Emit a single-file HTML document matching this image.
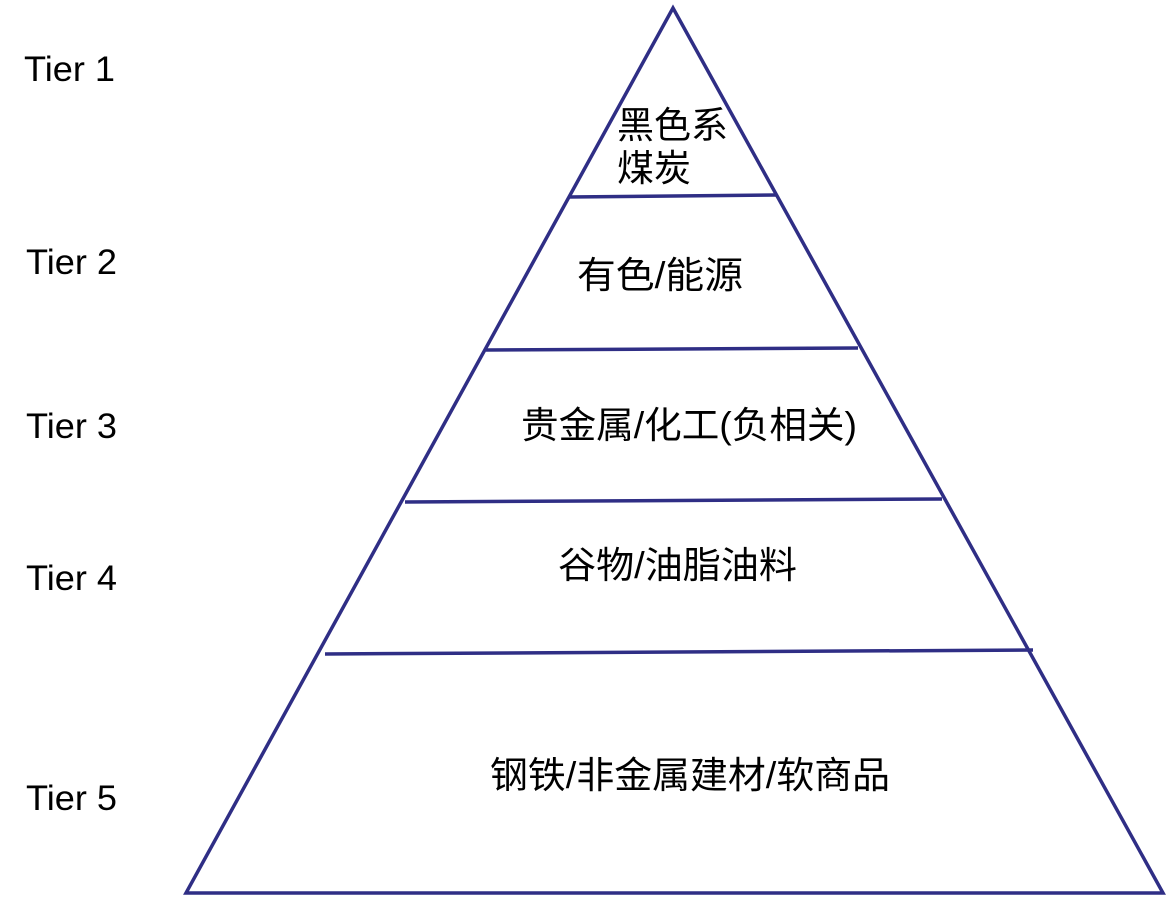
<!DOCTYPE html>
<html><head><meta charset="utf-8"><style>
body{margin:0;background:#fff;}
svg text{font-family:"Liberation Sans","Noto Sans CJK SC",sans-serif;fill:#000;}
</style></head><body>
<svg width="1176" height="909" viewBox="0 0 1176 909" xmlns="http://www.w3.org/2000/svg">
<g stroke="#2f2e85" stroke-width="3.5" fill="none">
<polygon points="673,8 186,893 1163,893"/>
<line x1="568" y1="197" x2="776" y2="195"/>
<line x1="486" y1="350" x2="858" y2="348"/>
<line x1="405" y1="502" x2="942" y2="499"/>
<line x1="325" y1="654" x2="1033" y2="650"/>
</g>
<g font-size="35">
<text x="24" y="81" textLength="91" lengthAdjust="spacingAndGlyphs">Tier 1</text>
<text x="26" y="274" textLength="91" lengthAdjust="spacingAndGlyphs">Tier 2</text>
<text x="26" y="438" textLength="91" lengthAdjust="spacingAndGlyphs">Tier 3</text>
<text x="26" y="590" textLength="91" lengthAdjust="spacingAndGlyphs">Tier 4</text>
<text x="26" y="810" textLength="91" lengthAdjust="spacingAndGlyphs">Tier 5</text>
</g>
<g font-size="37">
<text x="617" y="138" textLength="111" lengthAdjust="spacingAndGlyphs">黑色系</text>
<text x="617" y="181" textLength="74" lengthAdjust="spacingAndGlyphs">煤炭</text>
<text x="577" y="288" textLength="166" lengthAdjust="spacingAndGlyphs">有色/能源</text>
<text x="521" y="438" textLength="336" lengthAdjust="spacingAndGlyphs">贵金属/化工(负相关)</text>
<text x="558" y="578" textLength="239" lengthAdjust="spacingAndGlyphs">谷物/油脂油料</text>
<text x="490" y="788" textLength="400" lengthAdjust="spacingAndGlyphs">钢铁/非金属建材/软商品</text>
</g>
</svg>
</body></html>
